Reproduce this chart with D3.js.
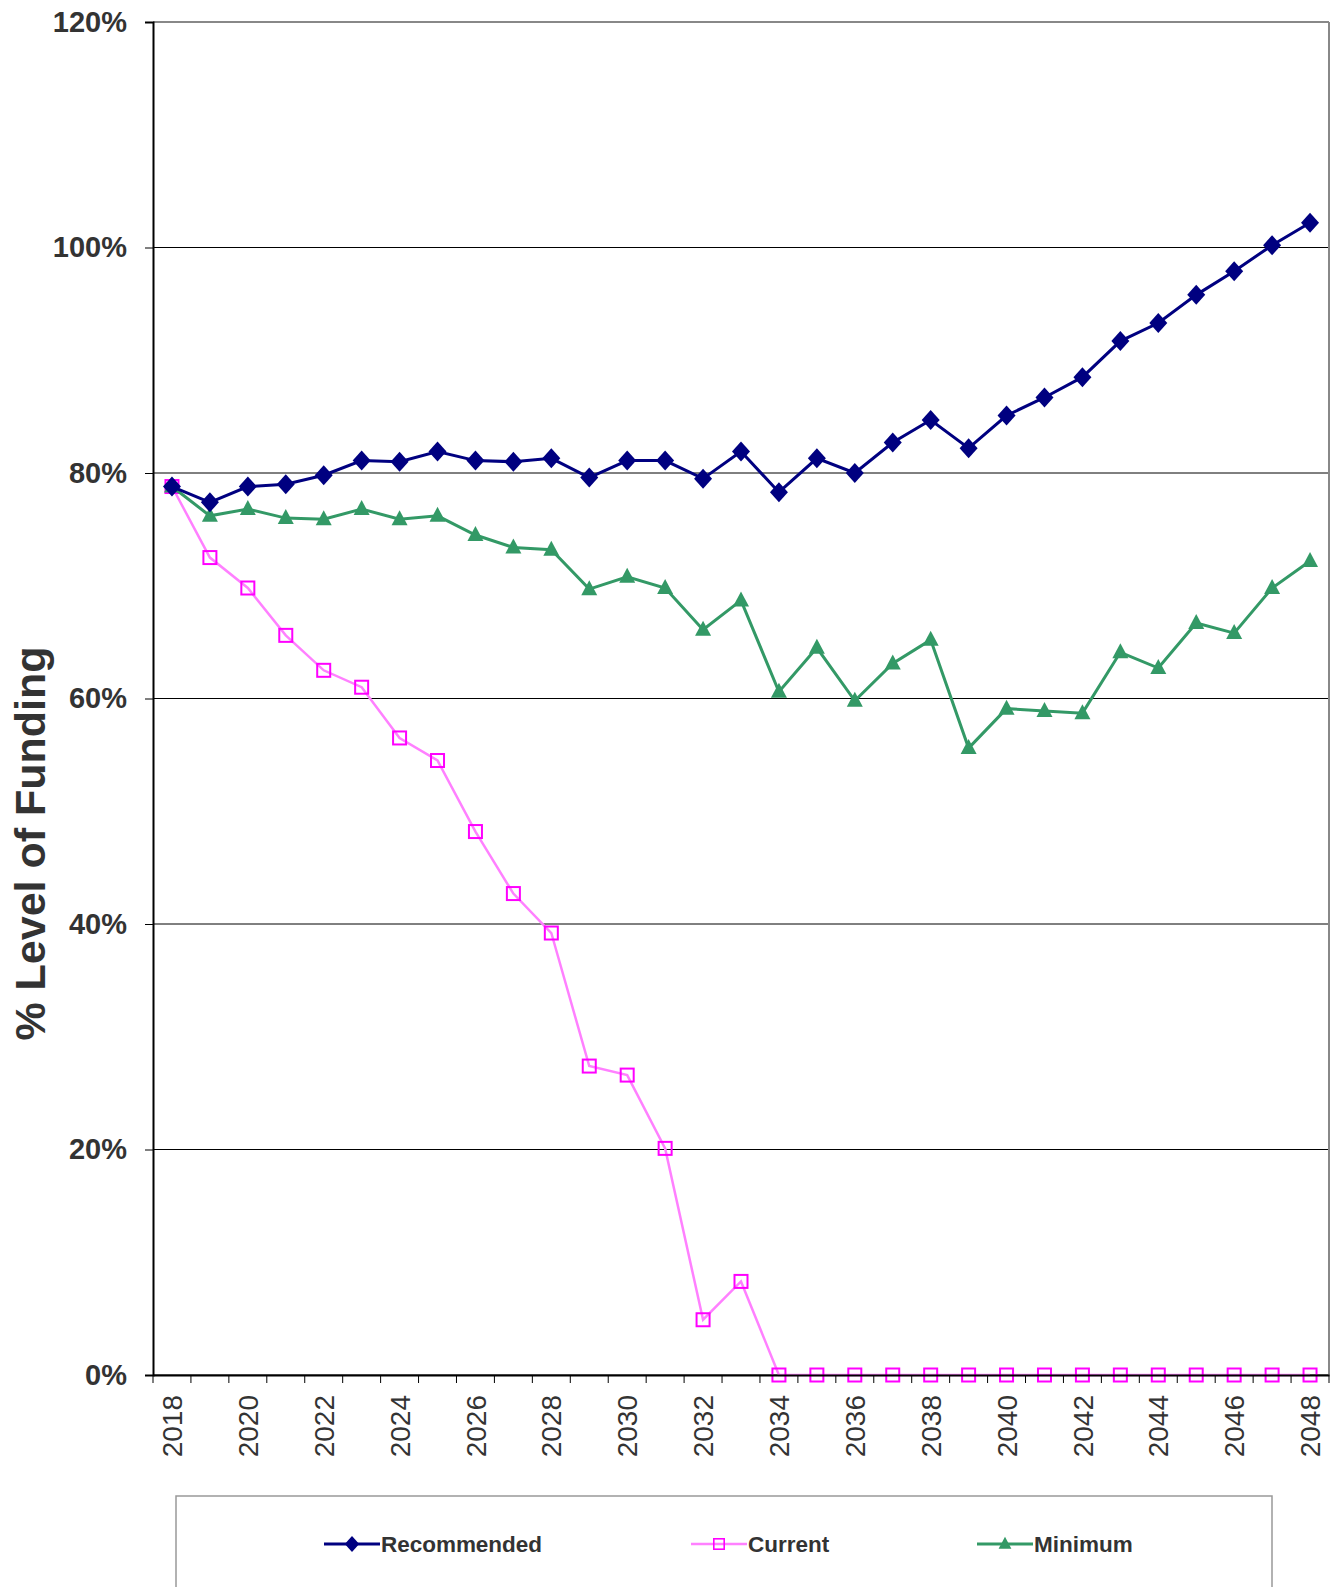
<!DOCTYPE html>
<html>
<head>
<meta charset="utf-8">
<script src="https://cdn.jsdelivr.net/npm/d3@7"></script>
<style>
    body { margin: 0; background: #fff; }
    text { font-family: "Liberation Sans", Arial, sans-serif; }
</style>
</head>
<body>
<div class="container"></div>
<script>
const WIDTH = 1336;
const HEIGHT = 1587;
const MARGIN = {top: 22, right: 7, bottom: 212, left: 153};

const INNER_WIDTH = WIDTH - MARGIN.left - MARGIN.right;
const INNER_HEIGHT = HEIGHT - MARGIN.top - MARGIN.bottom;

var years = d3.range(2018, 2049);
var yTicks = [0, 20, 40, 60, 80, 100, 120];

var recommended = [78.8, 77.4, 78.8, 79.0, 79.8, 81.1, 81.0, 81.9, 81.1, 81.0, 81.3,
    79.6, 81.1, 81.1, 79.5, 81.9, 78.3, 81.3, 80.0, 82.7, 84.7, 82.2, 85.1, 86.7,
    88.5, 91.7, 93.3, 95.8, 97.9, 100.2, 102.2];

var current = [78.8, 72.5, 69.8, 65.6, 62.5, 61.0, 56.5, 54.5, 48.2, 42.7, 39.2,
    27.4, 26.6, 20.1, 4.9, 8.3, 0, 0, 0, 0, 0, 0, 0, 0, 0, 0, 0, 0, 0, 0, 0];

var minimum = [78.8, 76.2, 76.8, 76.0, 75.9, 76.8, 75.9, 76.2, 74.5, 73.4, 73.2,
    69.7, 70.8, 69.8, 66.1, 68.7, 60.6, 64.5, 59.8, 63.1, 65.2, 55.6, 59.1, 58.9,
    58.7, 64.1, 62.7, 66.7, 65.8, 69.8, 72.2];

var seriesList = [
    {name: 'Recommended', values: recommended, color: '#000080', line: '#000080', width: 3, marker: 'diamond'},
    {name: 'Current', values: current, color: '#ff00ff', line: '#ff80ff', width: 2.5, marker: 'square'},
    {name: 'Minimum', values: minimum, color: '#339966', line: '#339966', width: 3, marker: 'triangle'}
];

var _xScale = d3.scaleBand()
    .domain(years)
    .range([0, INNER_WIDTH]);

var _yScale = d3.scaleLinear()
    .domain([0, 120])
    .range([INNER_HEIGHT, 0]);

var _svg;

var createSvg = function () {
    _svg = d3.select('.container').append('svg').attr('height', HEIGHT).attr('width', WIDTH);
};

var xCenter = function (year) {
    return _xScale(year) + _xScale.bandwidth() / 2;
};

var drawMarker = function (sel, marker, color) {
    if (marker === 'diamond') {
        sel.append('path')
            .attr('d', 'M0,-10L9,0L0,10L-9,0Z')
            .attr('fill', color);
    } else if (marker === 'square') {
        sel.append('rect')
            .attr('x', -6.5).attr('y', -6.5)
            .attr('width', 13).attr('height', 13)
            .attr('fill', 'none')
            .attr('stroke', color)
            .attr('stroke-width', 2);
    } else {
        sel.append('path')
            .attr('d', 'M0,-9L8,6L-8,6Z')
            .attr('fill', color);
    }
};

var drawGrid = function () {
    var g = _svg.append('g').attr('transform', 'translate(' + MARGIN.left + ',' + MARGIN.top + ')');

    g.selectAll('.grid')
        .data(yTicks)
        .enter().append('line')
        .attr('x1', 0)
        .attr('x2', INNER_WIDTH)
        .attr('y1', function (d) { return _yScale(d); })
        .attr('y2', function (d) { return _yScale(d); })
        .attr('stroke', function (d) { return d === 120 ? '#888' : '#000'; })
        .attr('stroke-width', function (d) { return d === 120 ? 2 : 1; });

    // right border of plot area
    g.append('line')
        .attr('x1', INNER_WIDTH).attr('x2', INNER_WIDTH)
        .attr('y1', 0).attr('y2', INNER_HEIGHT)
        .attr('stroke', '#888')
        .attr('stroke-width', 2);
};

var drawAxis = function () {
    var xAxis = d3.axisBottom(_xScale)
        .tickSize(0)
        .tickFormat('');

    var xg = _svg.append('g')
        .attr('transform', 'translate(' + MARGIN.left + ',' + (HEIGHT - MARGIN.bottom) + ')')
        .call(xAxis);
    xg.select('.domain').attr('stroke', '#000').attr('stroke-width', 2);

    // ticks on category boundaries
    xg.selectAll('.bound')
        .data(years.concat([null]))
        .enter().append('line')
        .attr('x1', function (d, i) { return i * _xScale.bandwidth(); })
        .attr('x2', function (d, i) { return i * _xScale.bandwidth(); })
        .attr('y1', 0)
        .attr('y2', 8)
        .attr('stroke', '#000');

    xg.selectAll('.lbl')
        .data(years.filter(function (d) { return d % 2 === 0; }))
        .enter().append('text')
        .attr('transform', function (d) {
            return 'translate(' + xCenter(d) + ',20) rotate(-90)';
        })
        .attr('text-anchor', 'end')
        .attr('dy', '0.36em')
        .attr('font-size', 28)
        .attr('fill', '#333')
        .text(function (d) { return d; });

    var yAxis = d3.axisLeft(_yScale)
        .tickValues(yTicks)
        .tickSize(8)
        .tickPadding(18)
        .tickFormat(function (d) { return d + '%'; });

    var yg = _svg.append('g')
        .attr('transform', 'translate(' + MARGIN.left + ',' + MARGIN.top + ')')
        .call(yAxis);
    yg.select('.domain').attr('stroke', '#000').attr('stroke-width', 2);
    yg.selectAll('.tick line').attr('stroke', '#000');
    yg.selectAll('.tick text')
        .attr('font-size', 29)
        .attr('font-weight', 'bold')
        .attr('fill', '#333')
        .style('font-family', '"Liberation Sans", Arial, sans-serif');

    _svg.append('text')
        .attr('transform', 'translate(30,' + (MARGIN.top + INNER_HEIGHT / 2 + 145) + ') rotate(-90)')
        .attr('text-anchor', 'middle')
        .attr('dy', '0.36em')
        .attr('font-size', 43)
        .attr('font-weight', 'bold')
        .attr('fill', '#333')
        .text('% Level of Funding');
};

var drawSeries = function () {
    var g = _svg.append('g').attr('transform', 'translate(' + MARGIN.left + ',' + MARGIN.top + ')');

    var line = d3.line()
        .x(function (d, i) { return xCenter(years[i]); })
        .y(function (d) { return _yScale(d); });

    var order = [seriesList[1], seriesList[2], seriesList[0]];

    order.forEach(function (s) {
        g.append('path')
            .datum(s.values)
            .attr('d', line)
            .attr('fill', 'none')
            .attr('stroke', s.line)
            .attr('stroke-width', s.width);

        g.selectAll('.m-' + s.marker)
            .data(s.values)
            .enter().append('g')
            .attr('class', 'm-' + s.marker)
            .attr('transform', function (d, i) {
                return 'translate(' + xCenter(years[i]) + ',' + _yScale(d) + ')';
            })
            .each(function () { drawMarker(d3.select(this), s.marker, s.color); });
    });
};

var drawLegend = function () {
    var lg = _svg.append('g');

    lg.append('rect')
        .attr('x', 176)
        .attr('y', 1496)
        .attr('width', 1096)
        .attr('height', 120)
        .attr('fill', '#fff')
        .attr('stroke', '#999')
        .attr('stroke-width', 1.5);

    var itemX = [324, 691, 977];

    seriesList.forEach(function (s, i) {
        var item = lg.append('g').attr('transform', 'translate(' + itemX[i] + ',1544)');
        item.append('line')
            .attr('x1', 0).attr('x2', 56)
            .attr('y1', 0).attr('y2', 0)
            .attr('stroke', s.line)
            .attr('stroke-width', s.width);
        var m = item.append('g').attr('transform', 'translate(28,0) scale(0.8)');
        drawMarker(m, s.marker, s.color);
        item.append('text')
            .attr('x', 57)
            .attr('dy', '0.36em')
            .attr('font-size', 22.5)
            .attr('font-weight', 'bold')
            .attr('fill', '#333')
            .attr('textLength', s.name === 'Recommended' ? 161 : null)
            .text(s.name);
    });
};

window.onload = function () {
    createSvg();
    drawGrid();
    drawSeries();
    drawAxis();
    drawLegend();
};
</script>
</body>
</html>
